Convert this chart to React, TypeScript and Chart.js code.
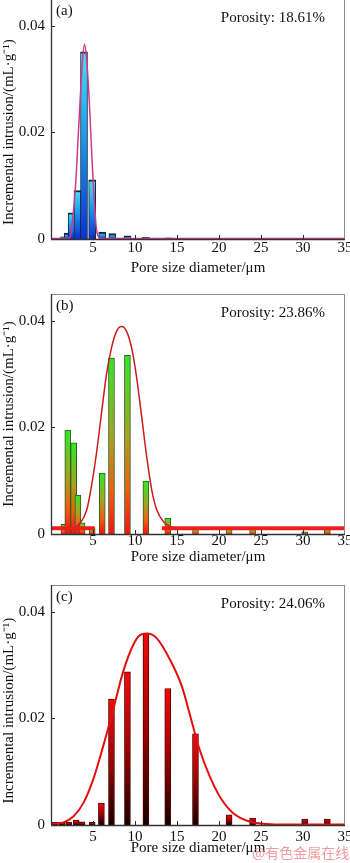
import React, { useEffect, useRef } from 'react';
import { Chart, registerables } from 'chart.js';

Chart.register(...registerables);

const FONT = "'Liberation Serif', 'Times New Roman', Times, serif";

// ---------- Panel (a) ----------
const aBarX = [1.55, 2.0, 2.45, 3.15, 3.93, 4.9, 6.1, 7.3, 9.1, 11.3, 14.0];
const aBarY = [0.0004, 0.0011, 0.0049, 0.0091, 0.0351, 0.0111, 0.0013, 0.001, 0.0006, 0.0003, 0.0002];
const aFitX = [0, 2.0, 2.3, 2.6, 2.9, 3.2, 3.5, 3.75, 4.0, 4.25, 4.55, 4.85, 5.1, 5.4, 5.7, 6.0, 35];
const aFitY = [0.0001, 0.0001, 0.0004, 0.004, 0.0095, 0.018, 0.027, 0.0335, 0.0365, 0.0335, 0.026, 0.016, 0.0085, 0.002, 0.0003, 0.0001, 0.0001];

// ---------- Panel (b) ----------
const bBarX = [1.55, 2.0, 2.7, 3.2, 3.7, 4.9, 6.1, 7.2, 9.1, 11.3, 13.9, 17.2, 21.2, 24.0, 30.2, 32.9];
const bBarY = [0.0018, 0.0195, 0.0171, 0.0073, 0.0021, 0.0012, 0.0114, 0.033, 0.0335, 0.0099, 0.003, 0.0012, 0.0009, 0.001, 0.0004, 0.0011];
const bFitX = [0, 2.5, 3.45, 4.25, 4.8, 5.4, 6.0, 6.6, 7.2, 7.8, 8.4, 9.0, 9.6, 10.2, 10.8, 11.4, 12.0, 12.6, 13.4, 14.2, 15.4, 35];
const bFitY = [0.0011, 0.0011, 0.002, 0.0045, 0.0088, 0.015, 0.0225, 0.0299, 0.0349, 0.038, 0.0389, 0.038, 0.0349, 0.0293, 0.0219, 0.0144, 0.0082, 0.0045, 0.0023, 0.0014, 0.0011, 0.0011];
const bBaseLeftX = [0, 5.2];
const bBaseRightX = [13.2, 35];
const bBaseY = 0.0011;

// ---------- Panel (c) ----------
const cBarX = [0.5, 1.3, 2.1, 3.0, 3.7, 4.9, 6.0, 7.2, 9.1, 11.3, 13.9, 17.2, 21.2, 24.0, 30.2, 32.9];
const cBarY = [0.0005, 0.0005, 0.0005, 0.0009, 0.0006, 0.0005, 0.0041, 0.0236, 0.0287, 0.0359, 0.0256, 0.0171, 0.0019, 0.0013, 0.0011, 0.0011];
const cFitX = [0, 1.5, 2.66, 3.85, 5.0, 6.2, 7.4, 8.6, 9.8, 10.6, 11.4, 12.6, 14.2, 15.6, 16.7, 17.7, 18.9, 20.1, 21.7, 23.7, 25.7, 28, 35];
const cFitY = [0.0002, 0.0005, 0.0016, 0.0041, 0.0084, 0.0147, 0.0216, 0.0288, 0.0338, 0.0356, 0.0359, 0.035, 0.0309, 0.0259, 0.0197, 0.0141, 0.0091, 0.0053, 0.0022, 0.0006, 0.0002, 0.0001, 0.0001];

// ---------- Axes / labels ----------
const xTickValues = [5, 10, 15, 20, 25, 30, 35];
const yTickValues = [0, 0.02, 0.04];
const xMin = 0;
const xMax = 35;
const yMax = 0.045;
const panelLabels = ['(a)', '(b)', '(c)'];
const porosityLabels = ['Porosity: 18.61%', 'Porosity: 23.86%', 'Porosity: 24.06%'];
const xTitle = 'Pore size diameter/\u03bcm';
const yTitle = 'Incremental intrusion/(mL\u00b7g\u207b\u00b9)';
const watermark = '@有色金属在线';

const zip = (xs: number[], ys: number[]) => xs.map((x, i) => ({ x, y: ys[i] }));
const flat = (xs: number[], y: number) => xs.map((x) => ({ x, y }));

function barGradient(stops: [number, string][]) {
  return (ctx: any) => {
    const chart = ctx.chart;
    const scales = chart.scales;
    if (ctx.type !== 'data' || !scales || !scales.y) return stops[0][1];
    const raw = ctx.raw as { x: number; y: number };
    const yTop = scales.y.getPixelForValue(raw.y);
    const yBot = scales.y.getPixelForValue(0);
    if (!isFinite(yTop) || !isFinite(yBot) || yBot - yTop < 0.5) return stops[stops.length - 1][1];
    const g = chart.ctx.createLinearGradient(0, yTop, 0, yBot);
    stops.forEach(([o, c]) => g.addColorStop(o, c));
    return g;
  };
}

const decorPlugin = (label: string, porosity: string) => ({
  id: 'decor',
  afterDraw(chart: any) {
    const { ctx, chartArea: ca, scales } = chart;
    ctx.save();
    // inward tick marks
    ctx.strokeStyle = '#2a2a2a';
    ctx.lineWidth = 1;
    ctx.beginPath();
    yTickValues.forEach((v) => {
      if (v === 0) return;
      const p = Math.round(scales.y.getPixelForValue(v)) + 0.5;
      ctx.moveTo(ca.left, p);
      ctx.lineTo(ca.left + 4, p);
    });
    xTickValues.forEach((v) => {
      if (v >= xMax) return;
      const p = Math.round(scales.x.getPixelForValue(v)) + 0.5;
      ctx.moveTo(p, ca.bottom);
      ctx.lineTo(p, ca.bottom - 4);
    });
    ctx.stroke();
    // frame
    ctx.strokeStyle = '#8a8a8a';
    ctx.beginPath();
    ctx.moveTo(ca.left, Math.round(ca.top) + 0.5);
    ctx.lineTo(ca.right, Math.round(ca.top) + 0.5);
    ctx.moveTo(Math.round(ca.right) - 0.5, ca.top);
    ctx.lineTo(Math.round(ca.right) - 0.5, ca.bottom);
    ctx.stroke();
    ctx.strokeStyle = '#333';
    ctx.lineWidth = 1.3;
    ctx.beginPath();
    ctx.moveTo(Math.round(ca.left) + 0.5, ca.top);
    ctx.lineTo(Math.round(ca.left) + 0.5, ca.bottom);
    ctx.moveTo(ca.left, Math.round(ca.bottom) + 0.5);
    ctx.lineTo(ca.right, Math.round(ca.bottom) + 0.5);
    ctx.stroke();
    // texts
    ctx.fillStyle = '#111';
    ctx.font = `15px ${FONT}`;
    ctx.textBaseline = 'middle';
    ctx.textAlign = 'left';
    ctx.fillText(label, ca.left + 5, ca.top + 12.5);
    ctx.textAlign = 'right';
    ctx.fillText(porosity, ca.right - 20, ca.top + 19.5);
    ctx.restore();
  },
});

interface PanelSpec {
  top: number;
  height: number;
  caTop: number;
  caBottom: number;
  xLabelPad: number;
  xTitlePad: number;
  yTitleText: string;
  datasets: any[];
  label: string;
  porosity: string;
}

function Panel({ spec }: { spec: PanelSpec }) {
  const ref = useRef<HTMLCanvasElement | null>(null);
  useEffect(() => {
    if (!ref.current) return;
    const H = spec.height;
    const font = { family: FONT, size: 15 };
    const chart = new Chart(ref.current, {
      type: 'bar',
      data: { datasets: spec.datasets },
      options: {
        animation: false,
        responsive: false,
        events: [],
        layout: { padding: { left: 0, right: 5, top: spec.caTop, bottom: 0 }, autoPadding: false },
        plugins: { legend: { display: false }, tooltip: { enabled: false } },
        scales: {
          x: {
            type: 'linear',
            min: xMin,
            max: xMax,
            offset: false,
            grid: { display: false, drawTicks: false },
            border: { display: false },
            afterBuildTicks: (s: any) => {
              s.ticks = xTickValues.map((v) => ({ value: v }));
            },
            afterFit: (s: any) => {
              s.height = H - spec.caBottom;
              s.paddingLeft = 0;
              s.paddingRight = 0;
              s.paddingTop = 0;
              s.paddingBottom = 0;
            },
            ticks: {
              font,
              color: '#111',
              padding: spec.xLabelPad,
              maxRotation: 0,
              autoSkip: false,
              callback: (v: any) => String(v),
            },
            title: {
              display: true,
              text: xTitle,
              font,
              color: '#111',
              padding: { top: 0, bottom: spec.xTitlePad },
            },
          },
          y: {
            type: 'linear',
            min: 0,
            max: yMax,
            grid: { display: false, drawTicks: false },
            border: { display: false },
            afterBuildTicks: (s: any) => {
              s.ticks = yTickValues.map((v) => ({ value: v }));
            },
            afterFit: (s: any) => {
              s.width = 51;
              s.paddingTop = 0;
              s.paddingBottom = 0;
              s.paddingLeft = 0;
              s.paddingRight = 0;
            },
            ticks: {
              font,
              color: '#111',
              padding: 6,
              callback: (v: any) => (Number(v) === 0 ? '0' : Number(v).toFixed(2)),
            },
            title: {
              display: true,
              text: spec.yTitleText,
              font,
              color: '#111',
              padding: { top: 0, bottom: 0 },
            },
          },
        },
      } as any,
      plugins: [decorPlugin(spec.label, spec.porosity)],
    } as any);
    return () => chart.destroy();
  }, [spec]);
  return (
    <canvas
      ref={ref}
      width={350}
      height={spec.height}
      style={{ position: 'absolute', left: 0, top: spec.top, width: 350, height: spec.height, display: 'block' }}
    />
  );
}

const specs: PanelSpec[] = [
  {
    top: -1,
    height: 290,
    caTop: 0,
    caBottom: 240,
    xLabelPad: 0,
    xTitlePad: 12,
    yTitleText: yTitle + '       ',
    label: panelLabels[0],
    porosity: porosityLabels[0],
    datasets: [
      {
        type: 'line',
        data: zip(aFitX, aFitY),
        borderColor: '#d2378a',
        borderWidth: 1.5,
        pointRadius: 0,
        cubicInterpolationMode: 'monotone',
        order: 0,
      },
      {
        type: 'bar',
        data: zip(aBarX, aBarY),
        backgroundColor: barGradient([
          [0, '#46e2f2'],
          [0.45, '#1f9ae8'],
          [1, '#0c30d4'],
        ]),
        borderColor: '#10283e',
        borderWidth: { top: 2, left: 1, right: 1, bottom: 0 },
        barThickness: 7,
        order: 1,
      },
    ],
  },
  {
    top: 290,
    height: 290,
    caTop: 4,
    caBottom: 244,
    xLabelPad: -2,
    xTitlePad: 14,
    yTitleText: yTitle,
    label: panelLabels[1],
    porosity: porosityLabels[1],
    datasets: [
      {
        type: 'line',
        data: flat(bBaseLeftX, bBaseY),
        borderColor: '#f01c1c',
        borderWidth: 4,
        pointRadius: 0,
        order: 0,
      },
      {
        type: 'line',
        data: flat(bBaseRightX, bBaseY),
        borderColor: '#f01c1c',
        borderWidth: 4,
        pointRadius: 0,
        order: 0,
      },
      {
        type: 'line',
        data: zip(bFitX, bFitY),
        borderColor: '#cc1a1a',
        borderWidth: 1.5,
        pointRadius: 0,
        cubicInterpolationMode: 'monotone',
        order: 0,
      },
      {
        type: 'bar',
        data: zip(bBarX, bBarY),
        backgroundColor: barGradient([
          [0, '#2ee82a'],
          [0.45, '#a6a222'],
          [0.75, '#ec5e12'],
          [1, '#f81212'],
        ]),
        borderColor: '#2f5f1f',
        borderWidth: { top: 1, left: 1, right: 1, bottom: 0 },
        barThickness: 6,
        order: 1,
      },
    ],
  },
  {
    top: 580,
    height: 283,
    caTop: 5,
    caBottom: 245,
    xLabelPad: 3,
    xTitlePad: 6,
    yTitleText: yTitle + '   ',
    label: panelLabels[2],
    porosity: porosityLabels[2],
    datasets: [
      {
        type: 'line',
        data: zip(cFitX, cFitY),
        borderColor: '#e01010',
        borderWidth: 2,
        pointRadius: 0,
        cubicInterpolationMode: 'monotone',
        order: 0,
      },
      {
        type: 'bar',
        data: zip(cBarX, cBarY),
        backgroundColor: barGradient([
          [0, '#f40a0a'],
          [0.5, '#9c0404'],
          [1, '#120000'],
        ]),
        borderColor: '#5a0000',
        borderWidth: { top: 1, left: 1, right: 1, bottom: 0 },
        barThickness: 6,
        order: 1,
      },
    ],
  },
];

export default function App() {
  return (
    <div
      style={{
        position: 'absolute',
        left: 0,
        top: 0,
        width: 350,
        height: 863,
        overflow: 'hidden',
        background: '#ffffff',
      }}
    >
      {specs.map((s, i) => (
        <Panel key={i} spec={s} />
      ))}
      <div
        style={{
          position: 'absolute',
          left: 252,
          top: 843,
          fontFamily: "'Noto Sans CJK SC', sans-serif",
          fontSize: 14,
          lineHeight: '18px',
          color: 'rgba(236, 120, 130, 0.75)',
          whiteSpace: 'nowrap',
        }}
      >
        {watermark}
      </div>
    </div>
  );
}
